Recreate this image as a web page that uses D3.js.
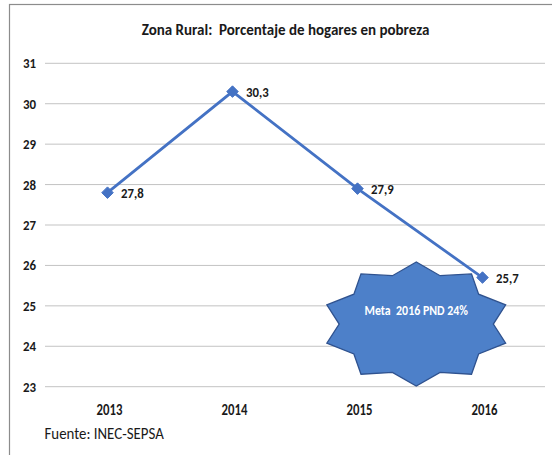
<!DOCTYPE html>
<html>
<head>
<meta charset="utf-8">
<script src="https://cdn.jsdelivr.net/npm/d3@7/dist/d3.min.js"></script>
<style>
  html, body { margin: 0; padding: 0; background: #fff; }
  svg { display: block; }
  text { font-family: Calibri, Carlito, Lato, "Liberation Sans", sans-serif; white-space: pre; }
</style>
</head>
<body>
<svg id="chart" width="552" height="455" xml:space="preserve"></svg>
<script>
// Rural poverty rate by year
const years = ["2013", "2014", "2015", "2016"];
const poverty = [27.8, 30.3, 27.9, 25.7];
const valueLabels = ["27,8", "30,3", "27,9", "25,7"];
const yTicks = [23, 24, 25, 26, 27, 28, 29, 30, 31];
const titleText = "Zona Rural:  Porcentaje de hogares en pobreza";
const sourceText = "Fuente: INEC-SEPSA";
const goalText = "Meta  2016 PND 24%";
const goalYear = 2015.47;  // burst sits between 2015 and 2016
const goalValue = 24.55;

const svg = d3.select("#chart");
const W = 552, H = 455;
const plot = { left: 45, right: 545, top: 63.3, bottom: 386.7 };
const ink = "#1a1a1a";

// place a text at (x, y) and narrow it horizontally
function narrowText(sel, x, y, sx) {
  return sel.attr("x", 0).attr("y", 0)
    .attr("transform", `translate(${x},${y}) scale(${sx},1)`);
}

// outer frame
svg.append("rect")
  .attr("x", 9.5).attr("y", 4.5)
  .attr("width", W + 20).attr("height", H + 20)
  .attr("fill", "#fff").attr("stroke", "#8c8c8c").attr("stroke-width", 1.2);

const x = d3.scaleBand().domain(years).range([plot.left, plot.right]);
const y = d3.scaleLinear().domain([23, 31]).range([plot.bottom, plot.top]);
const xc = d => x(d) + x.bandwidth() / 2;

// horizontal gridlines
svg.append("g").selectAll("line").data(yTicks).join("line")
  .attr("x1", plot.left).attr("x2", plot.right)
  .attr("y1", d => y(d)).attr("y2", d => y(d))
  .attr("stroke", "#c3c3c3").attr("stroke-width", 1);

// y axis labels
const yAxis = d3.axisLeft(y).tickValues(yTicks).tickSize(0).tickPadding(0);
const gy = svg.append("g").attr("transform", `translate(${plot.left - 9},0)`).call(yAxis);
gy.select(".domain").remove();
gy.selectAll("text")
  .attr("x", 0).attr("transform", "scale(0.92,1)")
  .attr("font-size", 14).attr("font-weight", "bold").attr("fill", ink)
  .style("font-family", "Calibri, Carlito, Lato, sans-serif");

// x axis labels
const xAxis = d3.axisBottom(x).tickSize(0).tickPadding(0);
const gx = svg.append("g").attr("transform", `translate(2,${plot.bottom + 18})`).call(xAxis);
gx.select(".domain").remove();
gx.selectAll("text")
  .attr("transform", "scale(0.85,1)")
  .attr("font-size", 15).attr("font-weight", "bold").attr("fill", ink)
  .style("font-family", "Calibri, Carlito, Lato, sans-serif");

// title
narrowText(svg.append("text"), 285.5, 34.5, 1.0)
  .attr("text-anchor", "middle")
  .attr("font-size", 15).attr("font-weight", "bold").attr("fill", ink)
  .text(titleText);

// source note
narrowText(svg.append("text"), 44.5, 438.5, 0.93)
  .attr("font-size", 16).attr("fill", ink)
  .text(sourceText);

// goal burst (10-point star)
const burstX = xc("2015") + (goalYear - 2015) * x.bandwidth();
const burstY = y(goalValue);
const rx = 94, ry = 62, inner = 0.82;
const pts = d3.range(20).map(i => {
  const a = Math.PI / 2 + i * Math.PI / 10;
  const r = i % 2 === 0 ? 1 : inner;
  return [burstX + Math.cos(a) * rx * r, burstY - Math.sin(a) * ry * r];
});
svg.append("path")
  .attr("d", d3.line()(pts) + "Z")
  .attr("fill", "#4d80c9").attr("stroke", "#2f528f").attr("stroke-width", 1.3);
narrowText(svg.append("text"), burstX, burstY - 9, 0.85)
  .attr("text-anchor", "middle")
  .attr("font-size", 14).attr("font-weight", "bold").attr("fill", "#fff")
  .text(goalText);

// series line
const data = years.map((yr, i) => ({ yr, v: poverty[i], label: valueLabels[i] }));
svg.append("path")
  .datum(data)
  .attr("fill", "none").attr("stroke", "#4472c4").attr("stroke-width", 2.8)
  .attr("d", d3.line().x(d => xc(d.yr)).y(d => y(d.v)));

// diamond markers
svg.append("g").selectAll("path").data(data).join("path")
  .attr("transform", d => `translate(${xc(d.yr)},${y(d.v)})`)
  .attr("d", d3.symbol(d3.symbolDiamond2, 85))
  .attr("fill", "#4472c4").attr("stroke", "#4472c4").attr("stroke-width", 1);

// value labels
svg.append("g").selectAll("text").data(data).join("text")
  .attr("transform", d => `translate(${xc(d.yr) + 13.5},${y(d.v) + 5.5}) scale(0.88,1)`)
  .attr("font-size", 14.5).attr("font-weight", "bold").attr("fill", ink)
  .text(d => d.label);
</script>
</body>
</html>
